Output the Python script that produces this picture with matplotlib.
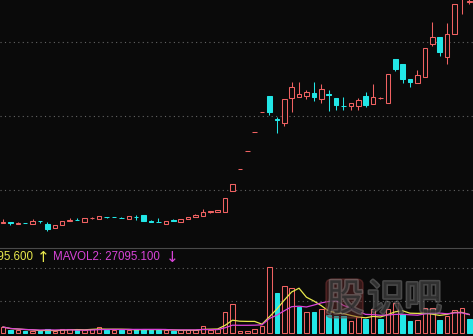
import numpy as np
import pandas as pd
import matplotlib
matplotlib.use('Agg')
import matplotlib.pyplot as plt
from matplotlib.patches import Rectangle, FancyBboxPatch
import matplotlib.patheffects as pe

# ---------------- data ----------------
opens = [4.15, 4.25, 4.05, 4.12, 3.97, 4.33, 4.0, 3.6, 3.9, 4.3,
         4.43, 4.25, 4.58, 4.55, 4.73, 4.73, 4.62, 4.55, 4.72, 4.9,
         4.28, 4.25, 4.05, 4.37, 4.17, 4.47, 4.67, 4.83, 5.18, 5.25,
         5.2, 7.3, 9.5, 11.3, 13.2, 15.2, 16.8, 14.45, 14.1, 16.6,
         16.7, 16.8, 17.1, 16.5, 17.0, 16.6, 15.83, 15.8, 15.8, 16.8,
         16.0, 16.57, 16.1, 20.5, 20.0, 18.5, 18.1, 18.7, 22.0, 22.7,
         20.7, 23.0, 26.9, 26.2]
highs = [4.5, 4.25, 4.25, 4.12, 4.5, 4.33, 4.2, 3.9, 4.35, 4.6,
         4.6, 4.6, 4.7, 4.85, 4.75, 4.75, 4.75, 4.8, 4.9, 4.9,
         4.45, 4.57, 4.33, 4.55, 4.53, 4.73, 5.0, 5.5, 5.3, 5.4,
         6.6, 8.0, 9.5, 11.3, 13.2, 15.2, 16.8, 14.7, 16.5, 18.2,
         18.2, 17.4, 18.2, 18.0, 17.4, 16.6, 16.7, 16.1, 16.6, 17.2,
         18.0, 16.7, 19.0, 20.5, 20.0, 18.5, 19.4, 21.6, 24.2, 22.7,
         24.1, 26.0, 28.9, 26.7]
lows = [4.15, 3.9, 4.05, 4.08, 3.97, 4.1, 3.3, 3.6, 3.9, 4.3,
        4.37, 4.25, 4.5, 4.55, 4.65, 4.67, 4.57, 4.55, 4.45, 4.3,
        4.23, 4.2, 4.05, 4.3, 4.17, 4.47, 4.67, 4.83, 5.1, 5.25,
        5.2, 7.3, 9.5, 11.3, 13.2, 15.2, 14.9, 13.1, 13.8, 15.2,
        16.65, 16.5, 16.3, 16.1, 15.3, 15.4, 15.4, 15.4, 15.4, 15.7,
        16.0, 16.5, 16.1, 19.3, 18.1, 17.7, 18.1, 18.7, 21.8, 20.8,
        20.0, 23.0, 25.0, 26.0]
closes = [4.2, 4.1, 4.1, 4.08, 4.35, 4.27, 3.5, 3.9, 4.3, 4.45,
          4.37, 4.6, 4.62, 4.8, 4.68, 4.69, 4.57, 4.8, 4.68, 4.3,
          4.23, 4.2, 4.33, 4.3, 4.53, 4.73, 4.85, 5.23, 5.25, 5.4,
          6.6, 8.0, 9.5, 11.3, 13.2, 15.2, 15.2, 14.35, 16.5, 17.7,
          17.0, 17.2, 16.7, 17.5, 16.85, 15.9, 15.77, 16.1, 16.4, 15.9,
          16.7, 16.62, 19.0, 19.5, 18.5, 18.2, 18.9, 21.6, 22.7, 21.2,
          23.0, 26.0, 28.4, 26.3]
volumes = [8740, 4410, 4330, 2950, 2880, 2920, 5790, 2960, 5850, 5810,
           4390, 4350, 5870, 8690, 4400, 4340, 4380, 4360, 5800, 5860,
           4420, 4310, 4390, 2930, 4360, 4410, 4350, 10180, 4380, 5820,
           30600, 42250, 2910, 2940, 5830, 10200, 96160, 58280, 68480, 65570,
           37880, 30600, 30620, 34970, 26230, 24770, 24790, 17480, 23310, 20400,
           34970, 20400, 34990, 43710, 27693, 17480, 18940, 36430, 36430, 18927,
           24770, 33510, 36430, 20341]

price_grid = [7.4, 14.8, 22.2]
vol_grid = [46600, 94700]

# ---------------- style ----------------
BG = '#0a0a0a'
RED = '#f06262'
CYAN = '#22e6e6'
YEL = '#e8e84c'
MAG = '#d844d8'
GRID = '#646464'
W, H = 473, 336
BW = 0.62
LW = 0.75

fig = plt.figure(figsize=(W / 100, H / 100), dpi=100, facecolor=BG)
ax = fig.add_axes([0, 88 / H, 1, 248 / H])
axv = fig.add_axes([0, 0, 1, 88 / H])
for a in (ax, axv):
    a.set_facecolor(BG)
    a.set_axis_off()
    a.set_xlim(-0.405, 63.51)

ax.set_ylim(1.6, 26.4)
axv.set_ylim(-4371, 123845)

for g in price_grid:
    ax.axhline(g, color=GRID, lw=0.8, ls=(0, (1, 3)), zorder=0)
for g in vol_grid:
    axv.axhline(g, color=GRID, lw=0.8, ls=(0, (1, 3)), zorder=0)

o = np.array(opens); h = np.array(highs); l = np.array(lows); c = np.array(closes)
x = np.arange(len(o))
up = c >= o
prev = np.concatenate([[o[0]], c[:-1]])
vol_up = c >= prev

# candles
for i in x:
    col = RED if up[i] else CYAN
    ax.vlines(i, l[i], h[i], color=col, lw=LW, zorder=2)
    b0 = min(o[i], c[i]); bh = abs(c[i] - o[i])
    ax.add_patch(Rectangle((i - BW / 2, b0), BW, bh,
                           facecolor=(BG if up[i] else col),
                           edgecolor=col, lw=LW, zorder=3))

# volume bars
for i in x:
    col = RED if vol_up[i] else CYAN
    axv.add_patch(Rectangle((i - BW / 2, 0), BW, volumes[i],
                            facecolor=(BG if vol_up[i] else col),
                            edgecolor=col, lw=LW, zorder=2))

vs = pd.Series(volumes, dtype=float)
ma5 = vs.rolling(5, min_periods=1).mean()
ma10 = vs.rolling(10, min_periods=1).mean()
axv.plot(x, ma5, color=YEL, lw=0.9, zorder=4)
axv.plot(x, ma10, color=MAG, lw=0.9, zorder=4)

# separator line
fig.add_artist(plt.Line2D([0, 1], [1 - 248 / H, 1 - 248 / H], color='#4a4a4a', lw=0.8))

fam = ['Liberation Sans', 'DejaVu Sans']
ty = 1 - 257.5 / H
fig.text(33 / W, ty, f'MAVOL1: {ma5.iloc[-1]:.3f}', color=YEL, ha='right', va='center',
         fontsize=8.3, family=fam)
fig.text(43 / W, ty, '↑', color=YEL, ha='center', va='center', fontsize=11,
         family=['DejaVu Sans'])
fig.text(53 / W, ty, f'MAVOL2: {ma10.iloc[-1]:.3f}', color=MAG, ha='left', va='center',
         fontsize=8.3, family=fam)
fig.text(172.5 / W, ty, '↓', color=MAG, ha='center', va='center', fontsize=11,
         family=['DejaVu Sans'])

# watermark
box = FancyBboxPatch((326 / W, 1 - 318 / H), 37 / W, 39 / H,
                     boxstyle='round,pad=0.0,rounding_size=0.015',
                     transform=fig.transFigure, facecolor='#6a2a2a', edgecolor='#8a3a3a',
                     lw=1.0, alpha=0.45, zorder=10)
fig.add_artist(box)
for ch, cx in zip('股识吧', [345, 386, 423]):
    t = fig.text(cx / W, 1 - 300 / H, ch, ha='center', va='center', fontsize=27,
                 family=['Noto Sans CJK SC', 'DejaVu Sans'], color='#151515', alpha=0.5,
                 zorder=11)
    t.set_path_effects([pe.Stroke(linewidth=2.2, foreground='#8a8a8a'), pe.Normal()])

fig.savefig('out.png', dpi=100, facecolor=BG)
